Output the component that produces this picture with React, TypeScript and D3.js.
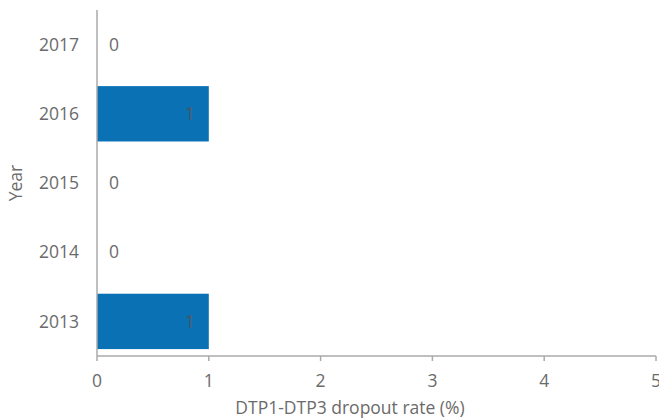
import React from 'react';
import * as d3 from 'd3';

const years = ['2017', '2016', '2015', '2014', '2013'];
const rates = [0, 1, 0, 0, 1];
const xTicks = [0, 1, 2, 3, 4, 5];

const W = 659;
const H = 418;
const margin = { top: 10, left: 97, right: 3, bottom: 62 };

export default function App() {
  const x = d3.scaleLinear().domain([0, 5]).range([margin.left, W - margin.right]);
  const y = d3
    .scaleBand()
    .domain(years)
    .range([margin.top, H - margin.bottom])
    .paddingInner(0.2)
    .paddingOuter(0.1);
  const font = '"Open Sans", "DejaVu Sans", sans-serif';
  const grey = '#6b6b6b';
  const axisY = H - margin.bottom;
  const fs = 17.5;

  return (
    <svg width={W} height={H} style={{ position: 'absolute', left: 0, top: 0, fontFamily: font }}>
      {years.map((yr, i) => (
        <g key={yr}>
          {rates[i] > 0 && (
            <rect
              x={x(0)}
              y={y(yr)!}
              width={x(rates[i]) - x(0)}
              height={y.bandwidth()}
              fill="#0a72b4"
            />
          )}
          <text
            x={rates[i] > 0 ? x(rates[i]) - 14 : x(0) + 12}
            y={y(yr)! + y.bandwidth() / 2}
            dy="0.35em"
            textAnchor={rates[i] > 0 ? 'end' : 'start'}
            fontSize={fs}
            fill={rates[i] > 0 ? '#555' : grey}
          >
            {rates[i]}
          </text>
          <text
            x={margin.left - 18}
            y={y(yr)! + y.bandwidth() / 2}
            dy="0.35em"
            textAnchor="end"
            fontSize={fs}
            fill={grey}
          >
            {yr}
          </text>
        </g>
      ))}
      <line x1={x(0)} x2={x(0)} y1={margin.top} y2={axisY} stroke="#aaa" strokeWidth={1.5} />
      <line x1={x(0)} x2={x(5)} y1={axisY} y2={axisY} stroke="#aaa" strokeWidth={1.5} />
      {xTicks.map((t) => (
        <g key={t}>
          <line x1={x(t)} x2={x(t)} y1={axisY} y2={axisY + 5} stroke="#aaa" strokeWidth={1.5} />
          <text x={x(t)} y={axisY + 31} textAnchor="middle" fontSize={fs} fill={grey}>
            {t}
          </text>
        </g>
      ))}
      <text x={350} y={414} textAnchor="middle" fontSize={fs} fill={grey}>
        DTP1-DTP3 dropout rate (%)
      </text>
      <text
        transform={`translate(22, ${(margin.top + axisY) / 2}) rotate(-90)`}
        textAnchor="middle"
        fontSize={fs}
        fill={grey}
      >
        Year
      </text>
    </svg>
  );
}
